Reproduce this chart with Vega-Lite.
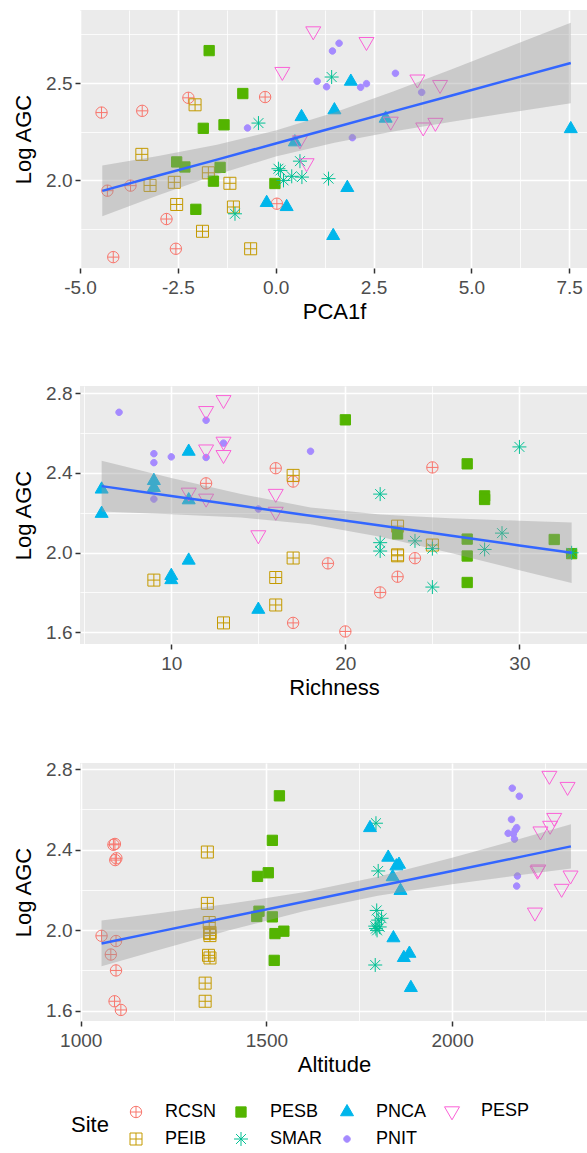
{
  "$schema": "https://vega.github.io/schema/vega-lite/v6.json",
  "background": "white",
  "padding": {"left": 12, "top": 10, "right": 0, "bottom": 0},
  "spacing": 62,
  "datasets": {
    "pts": [
      {"Site":"RCSN","LogAGC":2.428,"PCA1f":-0.27,"Richness":25,"Altitude":1092},
      {"Site":"RCSN","LogAGC":2.424,"PCA1f":-2.23,"Richness":16,"Altitude":1088},
      {"Site":"RCSN","LogAGC":2.357,"PCA1f":-3.41,"Richness":17,"Altitude":1096},
      {"Site":"RCSN","LogAGC":2.348,"PCA1f":-4.45,"Richness":12,"Altitude":1093},
      {"Site":"RCSN","LogAGC":1.972,"PCA1f":-3.71,"Richness":24,"Altitude":1056},
      {"Site":"RCSN","LogAGC":1.946,"PCA1f":-4.30,"Richness":19,"Altitude":1095},
      {"Site":"RCSN","LogAGC":1.879,"PCA1f":0.03,"Richness":23,"Altitude":1081},
      {"Site":"RCSN","LogAGC":1.800,"PCA1f":-2.79,"Richness":22,"Altitude":1095},
      {"Site":"RCSN","LogAGC":1.647,"PCA1f":-2.55,"Richness":17,"Altitude":1091},
      {"Site":"RCSN","LogAGC":1.604,"PCA1f":-4.15,"Richness":20,"Altitude":1108},
      {"Site":"PEIB","LogAGC":2.388,"PCA1f":-2.06,"Richness":17,"Altitude":1341},
      {"Site":"PEIB","LogAGC":2.133,"PCA1f":-3.42,"Richness":23,"Altitude":1341},
      {"Site":"PEIB","LogAGC":2.038,"PCA1f":-1.72,"Richness":25,"Altitude":1346},
      {"Site":"PEIB","LogAGC":1.989,"PCA1f":-2.59,"Richness":23,"Altitude":1348},
      {"Site":"PEIB","LogAGC":1.984,"PCA1f":-1.17,"Richness":23,"Altitude":1347},
      {"Site":"PEIB","LogAGC":1.973,"PCA1f":-3.21,"Richness":17,"Altitude":1348},
      {"Site":"PEIB","LogAGC":1.875,"PCA1f":-2.53,"Richness":16,"Altitude":1344},
      {"Site":"PEIB","LogAGC":1.862,"PCA1f":-1.08,"Richness":9,"Altitude":1348},
      {"Site":"PEIB","LogAGC":1.737,"PCA1f":-1.87,"Richness":16,"Altitude":1335},
      {"Site":"PEIB","LogAGC":1.647,"PCA1f":-0.64,"Richness":13,"Altitude":1335},
      {"Site":"PESB","LogAGC":2.667,"PCA1f":-1.70,"Richness":20,"Altitude":1535},
      {"Site":"PESB","LogAGC":2.446,"PCA1f":-0.84,"Richness":27,"Altitude":1516},
      {"Site":"PESB","LogAGC":2.285,"PCA1f":-1.32,"Richness":28,"Altitude":1505},
      {"Site":"PESB","LogAGC":2.267,"PCA1f":-1.85,"Richness":28,"Altitude":1476},
      {"Site":"PESB","LogAGC":2.094,"PCA1f":-2.53,"Richness":23,"Altitude":1480},
      {"Site":"PESB","LogAGC":2.068,"PCA1f":-2.32,"Richness":27,"Altitude":1474},
      {"Site":"PESB","LogAGC":2.066,"PCA1f":-1.42,"Richness":32,"Altitude":1516},
      {"Site":"PESB","LogAGC":1.995,"PCA1f":-1.59,"Richness":33,"Altitude":1547},
      {"Site":"PESB","LogAGC":1.983,"PCA1f":-0.02,"Richness":27,"Altitude":1523},
      {"Site":"PESB","LogAGC":1.850,"PCA1f":-2.04,"Richness":27,"Altitude":1521},
      {"Site":"SMAR","LogAGC":2.531,"PCA1f":1.43,"Richness":30,"Altitude":1795},
      {"Site":"SMAR","LogAGC":2.294,"PCA1f":-0.44,"Richness":22,"Altitude":1801},
      {"Site":"SMAR","LogAGC":2.098,"PCA1f":0.62,"Richness":29,"Altitude":1797},
      {"Site":"SMAR","LogAGC":2.059,"PCA1f":0.07,"Richness":24,"Altitude":1810},
      {"Site":"SMAR","LogAGC":2.050,"PCA1f":0.12,"Richness":22,"Altitude":1801},
      {"Site":"SMAR","LogAGC":2.020,"PCA1f":0.41,"Richness":25,"Altitude":1793},
      {"Site":"SMAR","LogAGC":2.016,"PCA1f":0.67,"Richness":28,"Altitude":1805},
      {"Site":"SMAR","LogAGC":2.008,"PCA1f":1.35,"Richness":22,"Altitude":1795},
      {"Site":"SMAR","LogAGC":1.999,"PCA1f":0.20,"Richness":33,"Altitude":1798},
      {"Site":"SMAR","LogAGC":1.827,"PCA1f":-1.04,"Richness":25,"Altitude":1793},
      {"Site":"PNCA","LogAGC":2.508,"PCA1f":1.92,"Richness":11,"Altitude":1779},
      {"Site":"PNCA","LogAGC":2.361,"PCA1f":1.50,"Richness":9,"Altitude":1828},
      {"Site":"PNCA","LogAGC":2.326,"PCA1f":0.66,"Richness":9,"Altitude":1857},
      {"Site":"PNCA","LogAGC":2.318,"PCA1f":2.81,"Richness":6,"Altitude":1850},
      {"Site":"PNCA","LogAGC":2.264,"PCA1f":7.54,"Richness":11,"Altitude":1840},
      {"Site":"PNCA","LogAGC":2.196,"PCA1f":0.49,"Richness":6,"Altitude":1861},
      {"Site":"PNCA","LogAGC":1.961,"PCA1f":1.83,"Richness":11,"Altitude":1842},
      {"Site":"PNCA","LogAGC":1.884,"PCA1f":-0.23,"Richness":10,"Altitude":1885},
      {"Site":"PNCA","LogAGC":1.863,"PCA1f":0.28,"Richness":10,"Altitude":1870},
      {"Site":"PNCA","LogAGC":1.714,"PCA1f":1.47,"Richness":15,"Altitude":1889},
      {"Site":"PNIT","LogAGC":2.705,"PCA1f":1.62,"Richness":7,"Altitude":2162},
      {"Site":"PNIT","LogAGC":2.665,"PCA1f":1.45,"Richness":12,"Altitude":2181},
      {"Site":"PNIT","LogAGC":2.550,"PCA1f":3.06,"Richness":13,"Altitude":2160},
      {"Site":"PNIT","LogAGC":2.509,"PCA1f":1.06,"Richness":18,"Altitude":2174},
      {"Site":"PNIT","LogAGC":2.497,"PCA1f":2.32,"Richness":9,"Altitude":2170},
      {"Site":"PNIT","LogAGC":2.481,"PCA1f":1.30,"Richness":10,"Altitude":2151},
      {"Site":"PNIT","LogAGC":2.478,"PCA1f":2.17,"Richness":12,"Altitude":2165},
      {"Site":"PNIT","LogAGC":2.452,"PCA1f":3.73,"Richness":9,"Altitude":2168},
      {"Site":"PNIT","LogAGC":2.269,"PCA1f":-0.72,"Richness":9,"Altitude":2176},
      {"Site":"PNIT","LogAGC":2.219,"PCA1f":1.96,"Richness":15,"Altitude":2174},
      {"Site":"PESP","LogAGC":2.767,"PCA1f":0.96,"Richness":13,"Altitude":2262},
      {"Site":"PESP","LogAGC":2.712,"PCA1f":2.32,"Richness":12,"Altitude":2311},
      {"Site":"PESP","LogAGC":2.558,"PCA1f":0.17,"Richness":13,"Altitude":2275},
      {"Site":"PESP","LogAGC":2.519,"PCA1f":3.62,"Richness":12,"Altitude":2264},
      {"Site":"PESP","LogAGC":2.491,"PCA1f":4.20,"Richness":13,"Altitude":2238},
      {"Site":"PESP","LogAGC":2.302,"PCA1f":2.94,"Richness":11,"Altitude":2232},
      {"Site":"PESP","LogAGC":2.296,"PCA1f":4.08,"Richness":16,"Altitude":2230},
      {"Site":"PESP","LogAGC":2.272,"PCA1f":3.77,"Richness":12,"Altitude":2319},
      {"Site":"PESP","LogAGC":2.206,"PCA1f":0.62,"Richness":16,"Altitude":2295},
      {"Site":"PESP","LogAGC":2.088,"PCA1f":0.79,"Richness":15,"Altitude":2223}
    ],
    "band1": [
      {"x":-4.43,"fit":1.945,"lo":1.814,"hi":2.076},
      {"x":-3.0,"fit":2.024,"lo":1.923,"hi":2.125},
      {"x":-1.5,"fit":2.106,"lo":2.029,"hi":2.183},
      {"x":0.0,"fit":2.189,"lo":2.122,"hi":2.256},
      {"x":1.5,"fit":2.271,"lo":2.193,"hi":2.349},
      {"x":3.0,"fit":2.354,"lo":2.250,"hi":2.457},
      {"x":4.5,"fit":2.436,"lo":2.301,"hi":2.571},
      {"x":6.0,"fit":2.519,"lo":2.349,"hi":2.689},
      {"x":7.54,"fit":2.603,"lo":2.396,"hi":2.810}
    ],
    "band2": [
      {"x":6,"fit":2.334,"lo":2.206,"hi":2.462},
      {"x":10,"fit":2.284,"lo":2.193,"hi":2.375},
      {"x":14,"fit":2.235,"lo":2.176,"hi":2.294},
      {"x":18,"fit":2.185,"lo":2.143,"hi":2.227},
      {"x":22,"fit":2.136,"lo":2.080,"hi":2.192},
      {"x":26,"fit":2.086,"lo":1.999,"hi":2.173},
      {"x":30,"fit":2.036,"lo":1.912,"hi":2.160},
      {"x":33,"fit":1.999,"lo":1.847,"hi":2.151}
    ],
    "band3": [
      {"x":1056,"fit":1.934,"lo":1.821,"hi":2.048},
      {"x":1200,"fit":1.989,"lo":1.897,"hi":2.081},
      {"x":1400,"fit":2.065,"lo":1.999,"hi":2.131},
      {"x":1600,"fit":2.141,"lo":2.094,"hi":2.188},
      {"x":1800,"fit":2.218,"lo":2.171,"hi":2.265},
      {"x":2000,"fit":2.294,"lo":2.228,"hi":2.360},
      {"x":2200,"fit":2.370,"lo":2.278,"hi":2.462},
      {"x":2320,"fit":2.416,"lo":2.306,"hi":2.526}
    ]
  },
  "config": {
    "view": {"fill": "#EBEBEB", "stroke": null},
    "font": "Liberation Sans",
    "axis": {
      "domain": false, "grid": true, "gridColor": "#FFFFFF",
      "tickColor": "#333333", "tickSize": 5, "tickWidth": 1.5,
      "labelColor": "#4D4D4D", "labelFontSize": 19, "labelFont": "Liberation Sans",
      "labelFlush": false, "labelOverlap": false, "labelBound": false,
      "titleFont": "Liberation Sans", "titleFontSize": 22, "titleFontWeight": "normal", "titleColor": "#000000",
      "labelPadding": 3
    },
    "axisX": {"titlePadding": 4, "labelPadding": 5},
    "axisY": {"titlePadding": 10},
    "legend": {
      "orient": "none", "legendX": -9, "legendY": 1092,
      "direction": "horizontal", "columns": 4,
      "titleOrient": "left", "titleAnchor": "middle", "titleBaseline": "middle",
      "titleFontSize": 22, "titleFontWeight": "normal", "titleColor": "#000000", "titleFont": "Liberation Sans",
      "labelFontSize": 18, "labelColor": "#000000", "labelFont": "Liberation Sans",
      "symbolSize": 100, "symbolStrokeWidth": 1, "rowPadding": 8, "columnPadding": 15, "labelOffset": 20, "titlePadding": 18
    }
  },
  "vconcat": [
    {
      "width": 508, "height": 258,
      "layer": [
        {
          "data": {"name": "pts"},
          "mark": {"type": "point", "opacity": 1, "strokeWidth": 1, "size": 100},
          "encoding": {
            "x": {"field": "PCA1f", "type": "quantitative", "title": "PCA1f",
              "scale": {"domain": [-5, 7.98], "nice": false, "zero": false},
              "axis": {"values": [-5, -3.75, -2.5, -1.25, 0, 1.25, 2.5, 3.75, 5, 6.25, 7.5],
                "labelExpr": "round(datum.value*4) % 10 == 0 ? replace(format(datum.value, '.1f'), '\u2212', '-') : ''",
                "tickOpacity": {"condition": {"test": "round(datum.value*4) % 10 != 0", "value": 0}, "value": 1},
                "gridWidth": {"condition": {"test": "round(datum.value*4) % 10 != 0", "value": 0.8}, "value": 1.6}}},
            "y": {"field": "LogAGC", "type": "quantitative", "title": "Log AGC",
              "scale": {"domain": [1.548, 2.876], "nice": false, "zero": false},
              "axis": {"values": [1.75, 2, 2.25, 2.5, 2.75],
                "labelExpr": "round(datum.value*4) % 2 == 0 ? format(datum.value, '.1f') : ''",
                "tickOpacity": {"condition": {"test": "round(datum.value*4) % 2 != 0", "value": 0}, "value": 1},
                "gridWidth": {"condition": {"test": "round(datum.value*4) % 2 != 0", "value": 0.8}, "value": 1.6}}},
            "shape": {"field": "Site", "type": "nominal", "title": "Site",
              "scale": {"domain": ["RCSN","PESB","PNCA","PESP","PEIB","SMAR","PNIT"],
                "range": [
                  "M-1.14,0A1.14,1.14 0 1,0 1.14,0A1.14,1.14 0 1,0 -1.14,0ZM-1.14,0H1.14M0,-1.14V1.14",
                  "M-1.03,-1.03H1.03V1.03H-1.03Z",
                  "M0,-1.5L1.3,0.75L-1.3,0.75Z",
                  "M-1.5,-0.87L1.5,-0.87L0,1.73Z",
                  "M-1.2,-1.2H1.2V1.2H-1.2ZM-1.2,0H1.2M0,-1.2V1.2",
                  "M-1.4,0H1.4M0,-1.4V1.4M-0.99,-0.99L0.99,0.99M-0.99,0.99L0.99,-0.99",
                  "M-0.65,0A0.65,0.65 0 1,0 0.65,0A0.65,0.65 0 1,0 -0.65,0Z"
                ]}},
            "fill": {"field": "Site", "type": "nominal", "title": "Site",
              "scale": {"domain": ["RCSN","PESB","PNCA","PESP","PEIB","SMAR","PNIT"],
                "range": ["transparent","#53B400","#00B6EB","transparent","transparent","transparent","#A58AFF"]}},
            "stroke": {"field": "Site", "type": "nominal", "title": "Site",
              "scale": {"domain": ["RCSN","PESB","PNCA","PESP","PEIB","SMAR","PNIT"],
                "range": ["#F8766D","#53B400","#00B6EB","#FB61D7","#C49A00","#00C094","#A58AFF"]}}
          }
        },
        {
          "data": {"name": "band1"},
          "mark": {"type": "area", "color": "#999999", "opacity": 0.4},
          "encoding": {
            "x": {"field": "x", "type": "quantitative", "title": "PCA1f"},
            "y": {"field": "lo", "type": "quantitative", "title": "Log AGC"},
            "y2": {"field": "hi"}
          }
        },
        {
          "data": {"name": "band1"},
          "mark": {"type": "line", "color": "#3366FF", "strokeWidth": 2.5},
          "encoding": {
            "x": {"field": "x", "type": "quantitative", "title": "PCA1f"},
            "y": {"field": "fit", "type": "quantitative", "title": "Log AGC"}
          }
        }
      ]
    },
    {
      "width": 508, "height": 258,
      "layer": [
        {
          "data": {"name": "pts"},
          "mark": {"type": "point", "opacity": 1, "strokeWidth": 1, "size": 100},
          "encoding": {
            "x": {"field": "Richness", "type": "quantitative", "title": "Richness",
              "scale": {"domain": [4.756, 33.94], "nice": false, "zero": false},
              "axis": {"values": [5, 10, 15, 20, 25, 30],
                "labelExpr": "datum.value % 10 == 0 ? format(datum.value, 'd') : ''",
                "tickOpacity": {"condition": {"test": "datum.value % 10 != 0", "value": 0}, "value": 1},
                "gridWidth": {"condition": {"test": "datum.value % 10 != 0", "value": 0.8}, "value": 1.6}}},
            "y": {"field": "LogAGC", "type": "quantitative", "title": "Log AGC",
              "scale": {"domain": [1.541, 2.837], "nice": false, "zero": false},
              "axis": {"values": [1.6, 1.8, 2.0, 2.2, 2.4, 2.6, 2.8],
                "labelExpr": "round(datum.value*10) % 4 == 0 ? format(datum.value, '.1f') : ''",
                "tickOpacity": {"condition": {"test": "round(datum.value*10) % 4 != 0", "value": 0}, "value": 1},
                "gridWidth": {"condition": {"test": "round(datum.value*10) % 4 != 0", "value": 0.8}, "value": 1.6}}},
            "shape": {"field": "Site", "type": "nominal", "title": "Site"},
            "fill": {"field": "Site", "type": "nominal", "title": "Site"},
            "stroke": {"field": "Site", "type": "nominal", "title": "Site"}
          }
        },
        {
          "data": {"name": "band2"},
          "mark": {"type": "area", "color": "#999999", "opacity": 0.4},
          "encoding": {
            "x": {"field": "x", "type": "quantitative", "title": "Richness"},
            "y": {"field": "lo", "type": "quantitative", "title": "Log AGC"},
            "y2": {"field": "hi"}
          }
        },
        {
          "data": {"name": "band2"},
          "mark": {"type": "line", "color": "#3366FF", "strokeWidth": 2.5},
          "encoding": {
            "x": {"field": "x", "type": "quantitative", "title": "Richness"},
            "y": {"field": "fit", "type": "quantitative", "title": "Log AGC"}
          }
        }
      ]
    },
    {
      "width": 508, "height": 258,
      "layer": [
        {
          "data": {"name": "pts"},
          "mark": {"type": "point", "opacity": 1, "strokeWidth": 1, "size": 100},
          "encoding": {
            "x": {"field": "Altitude", "type": "quantitative", "title": "Altitude",
              "scale": {"domain": [998, 2366], "nice": false, "zero": false},
              "axis": {"values": [1000, 1250, 1500, 1750, 2000, 2250],
                "labelExpr": "datum.value % 500 == 0 ? format(datum.value, 'd') : ''",
                "tickOpacity": {"condition": {"test": "datum.value % 500 != 0", "value": 0}, "value": 1},
                "gridWidth": {"condition": {"test": "datum.value % 500 != 0", "value": 0.8}, "value": 1.6}}},
            "y": {"field": "LogAGC", "type": "quantitative", "title": "Log AGC",
              "scale": {"domain": [1.549, 2.83], "nice": false, "zero": false},
              "axis": {"values": [1.6, 1.8, 2.0, 2.2, 2.4, 2.6, 2.8],
                "labelExpr": "round(datum.value*10) % 4 == 0 ? format(datum.value, '.1f') : ''",
                "tickOpacity": {"condition": {"test": "round(datum.value*10) % 4 != 0", "value": 0}, "value": 1},
                "gridWidth": {"condition": {"test": "round(datum.value*10) % 4 != 0", "value": 0.8}, "value": 1.6}}},
            "shape": {"field": "Site", "type": "nominal", "title": "Site"},
            "fill": {"field": "Site", "type": "nominal", "title": "Site"},
            "stroke": {"field": "Site", "type": "nominal", "title": "Site"}
          }
        },
        {
          "data": {"name": "band3"},
          "mark": {"type": "area", "color": "#999999", "opacity": 0.4},
          "encoding": {
            "x": {"field": "x", "type": "quantitative", "title": "Altitude"},
            "y": {"field": "lo", "type": "quantitative", "title": "Log AGC"},
            "y2": {"field": "hi"}
          }
        },
        {
          "data": {"name": "band3"},
          "mark": {"type": "line", "color": "#3366FF", "strokeWidth": 2.5},
          "encoding": {
            "x": {"field": "x", "type": "quantitative", "title": "Altitude"},
            "y": {"field": "fit", "type": "quantitative", "title": "Log AGC"}
          }
        }
      ]
    }
  ]
}
